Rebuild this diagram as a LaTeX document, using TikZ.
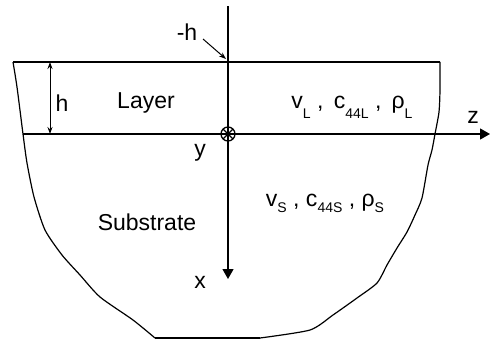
\documentclass[tikz,border=0pt]{standalone}
\usepackage{fontspec}
\setmainfont{Liberation Sans}
\usetikzlibrary{arrows.meta, positioning, calc}
\newcommand{\lowsub}[2][-8pt]{\raisebox{#1}{\fontsize{14}{14}\selectfont #2}}
\tikzset{
    outline/.style={line width=1.2pt, line join=round},
    axisline/.style={line width=1.3pt},
    axisarrow/.style={axisline, -{Triangle[length=10pt, width=11pt]}},
    dimarrow/.style={{Stealth[length=7pt, width=5pt]}-{Stealth[length=7pt, width=5pt]}, line width=1pt},
    ptarrow/.style={-{Stealth[length=7pt, width=5pt]}, line width=1pt},
    lbl/.style={font=\fontsize{23}{27}\selectfont, inner sep=0pt},
    origin/.style={circle, draw, line width=1.3pt, minimum size=14pt, inner sep=0pt,
                   path picture={
                     \draw[line width=1.1pt] (path picture bounding box.north west) -- (path picture bounding box.south east);
                     \draw[line width=1.1pt] (path picture bounding box.north east) -- (path picture bounding box.south west);}},
}
\begin{document}
\begin{tikzpicture}[x=1pt, y=-1pt]
    \useasboundingbox (0,0) rectangle (490,340);
    % body outline
    \draw[outline] (13,62) -- (440,62);
    \draw[outline] plot[smooth, tension=0.4] coordinates {
        (440,62) (440,90) (439,112) (435,134) (432,150) (428,165) (422,198)
        (415,215) (407,232) (397,248) (387,265) (377,283) (357,298) (333,315)
        (310,330) (260,338)};
    \draw[outline] (260,338) -- (155,338);
    \draw[outline] plot[smooth, tension=0.4] coordinates {
        (155,338) (133,320) (100,297) (80,275) (62,255) (45,230) (34,197)
        (27,163) (23,134) (17,87) (13,62)};
    % axes
    \node[origin] (o) at (228,134) {};
    \coordinate (xtop) at (228,6);
    \coordinate (xend) at (228,279);
    \coordinate (zstart) at (23,134);
    \coordinate (zend) at (490,134);
    \draw[axisline] (xtop) -- (o.center);
    \draw[axisarrow] (o.center) -- (xend);
    \draw[axisline] (zstart) -- (o.center);
    \draw[axisarrow] (o.center) -- (zend);
    % layer thickness
    \coordinate (htop) at (50,62);
    \coordinate (hbot) at (50,134);
    \draw[dimarrow] (htop) -- (hbot);
    \node[lbl] (hlbl) at (62,103) {h};
    \node[lbl] (mhlbl) at (187,32) {-h};
    \coordinate (mhfrom) at (203,39);
    \coordinate (mhtip) at (226,59);
    \draw[ptarrow] (mhfrom) -- (mhtip);
    % labels
    \node[lbl] (layer) at (146,103) {Layer};
    \node[lbl] (substrate) at (147,222) {Substrate};
    \node[lbl] (ylbl) at (200,153) {y};
    \node[lbl] (xlbl) at (200,282) {x};
    \node[lbl] (zlbl) at (473,117) {z};
    \node[lbl, anchor=base] (layerpar) at (352,108)
        {v\lowsub[-10pt]{L} ,\, c\lowsub[-10pt]{44L} ,\, ρ\lowsub[-10pt]{L}};
    \node[lbl, anchor=base] (subpar) at (325,206)
        {v\lowsub[-6pt]{S} , c\lowsub[-6pt]{44S} , ρ\lowsub[-6pt]{S}};
\end{tikzpicture}
\end{document}
